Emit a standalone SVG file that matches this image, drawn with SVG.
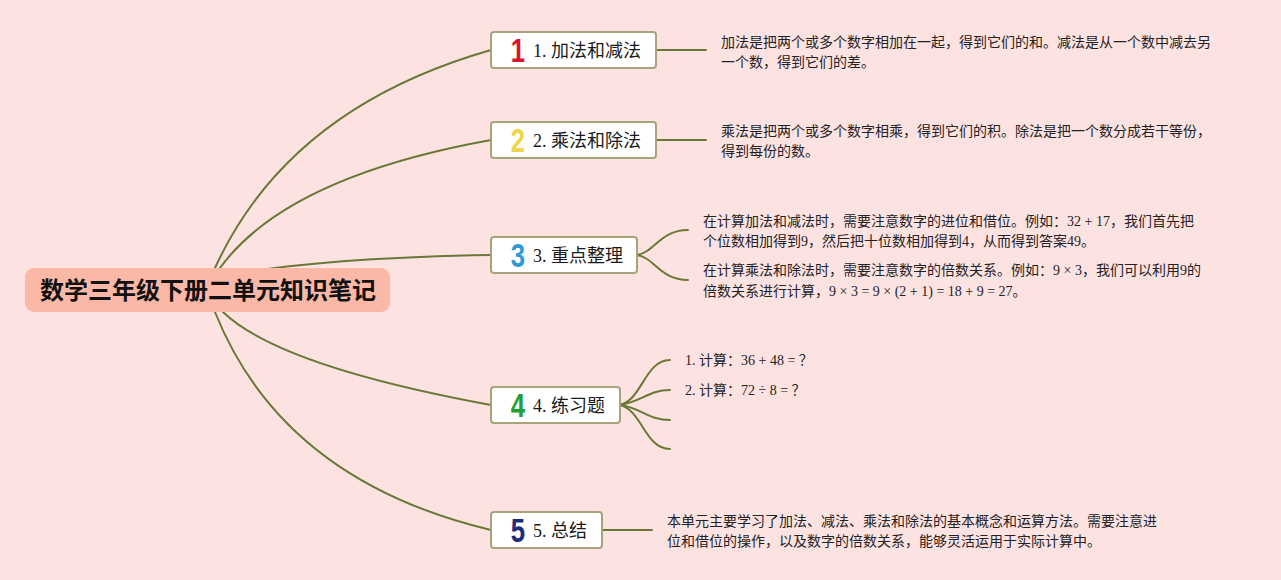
<svg xmlns="http://www.w3.org/2000/svg" width="1281" height="580" viewBox="0 0 1281 580">
<style>
.bg{fill:#fde2e2}
.conn{fill:none;stroke:#6a7836;stroke-width:2;stroke-linecap:round}
.node{fill:#ffffff;stroke:#a6a47c;stroke-width:2}
.lbl{font-family:"Liberation Serif","Noto Sans CJK SC",serif;font-size:18px;fill:#1a1a1a}
.num{font-family:"Liberation Sans","DejaVu Sans",sans-serif;font-weight:bold;font-size:33px;text-anchor:middle}
.desc{font-family:"Liberation Serif","Noto Sans CJK SC",serif;font-size:14px;fill:#222}
.root{font-family:"Noto Sans CJK SC",sans-serif;font-weight:bold;font-size:24px;fill:#111;text-anchor:middle}
</style>
<rect class="bg" x="0" y="0" width="1281" height="580"/>
<g id="connectors">
<path class="conn" d="M215,268 Q288,108 491,50"/>
<path class="conn" d="M220,268 Q286,177 491,140"/>
<path class="conn" d="M230,275 Q320,258 491,255"/>
<path class="conn" d="M223,312 Q279,366 491,405"/>
<path class="conn" d="M215,312 Q282,480 491,530"/>
<path class="conn" d="M656,50 L706,50"/>
<path class="conn" d="M656,140 L706,140"/>
<path class="conn" d="M637,255 C655,252 660,230 688,230"/>
<path class="conn" d="M637,255 C655,258 660,280 688,280"/>
<path class="conn" d="M620,405 C642,400 645,360 670,360"/>
<path class="conn" d="M620,405 C642,402 648,390 670,390"/>
<path class="conn" d="M620,405 C642,408 648,420 670,420"/>
<path class="conn" d="M620,405 C642,410 645,449 670,449"/>
<path class="conn" d="M602,530 L652,530"/>
</g>
<g id="root">
<rect x="25" y="268" width="365" height="44" rx="9" fill="#fbb8a6"/>
<text class="root" x="208" y="299">数学三年级下册二单元知识笔记</text>
</g>
<g id="node1">
<rect class="node" x="491" y="32" width="165" height="36" rx="3"/>
<text class="num" transform="translate(518,62) scale(0.78,1)" fill="#d6162e">1</text>
<text class="lbl" x="533" y="57">1. 加法和减法</text>
</g>
<g id="desc1">
<text class="desc" x="721" y="47">加法是把两个或多个数字相加在一起，得到它们的和。减法是从一个数中减去另</text>
<text class="desc" x="721" y="67">一个数，得到它们的差。</text>
</g>
<g id="node2">
<rect class="node" x="491" y="122" width="165" height="36" rx="3"/>
<text class="num" transform="translate(518,152) scale(0.78,1)" fill="#f0d54a">2</text>
<text class="lbl" x="533" y="147">2. 乘法和除法</text>
</g>
<g id="desc2">
<text class="desc" x="721" y="136">乘法是把两个或多个数字相乘，得到它们的积。除法是把一个数分成若干等份，</text>
<text class="desc" x="721" y="156">得到每份的数。</text>
</g>
<g id="node3">
<rect class="node" x="491" y="237" width="146" height="36" rx="3"/>
<text class="num" transform="translate(518,267) scale(0.78,1)" fill="#2e9bd8">3</text>
<text class="lbl" x="533" y="262">3. 重点整理</text>
</g>
<g id="desc3a">
<text class="desc" x="703" y="226">在计算加法和减法时，需要注意数字的进位和借位。例如：32 + 17，我们首先把</text>
<text class="desc" x="703" y="246">个位数相加得到9，然后把十位数相加得到4，从而得到答案49。</text>
</g>
<g id="desc3b">
<text class="desc" x="703" y="275">在计算乘法和除法时，需要注意数字的倍数关系。例如：9 × 3，我们可以利用9的</text>
<text class="desc" x="703" y="296">倍数关系进行计算，9 × 3 = 9 × (2 + 1) = 18 + 9 = 27。</text>
</g>
<g id="node4">
<rect class="node" x="491" y="387" width="129" height="36" rx="3"/>
<text class="num" transform="translate(518,417) scale(0.78,1)" fill="#22a034">4</text>
<text class="lbl" x="533" y="412">4. 练习题</text>
</g>
<g id="q1"><text class="desc" x="685" y="365">1. 计算：36 + 48 = ？</text></g>
<g id="q2"><text class="desc" x="685" y="395">2. 计算：72 ÷ 8 = ？</text></g>
<g id="node5">
<rect class="node" x="491" y="512" width="111" height="36" rx="3"/>
<text class="num" transform="translate(518,542) scale(0.78,1)" fill="#1c2b7c">5</text>
<text class="lbl" x="533" y="537">5. 总结</text>
</g>
<g id="desc5">
<text class="desc" x="667" y="526">本单元主要学习了加法、减法、乘法和除法的基本概念和运算方法。需要注意进</text>
<text class="desc" x="667" y="546">位和借位的操作，以及数字的倍数关系，能够灵活运用于实际计算中。</text>
</g>
</svg>
